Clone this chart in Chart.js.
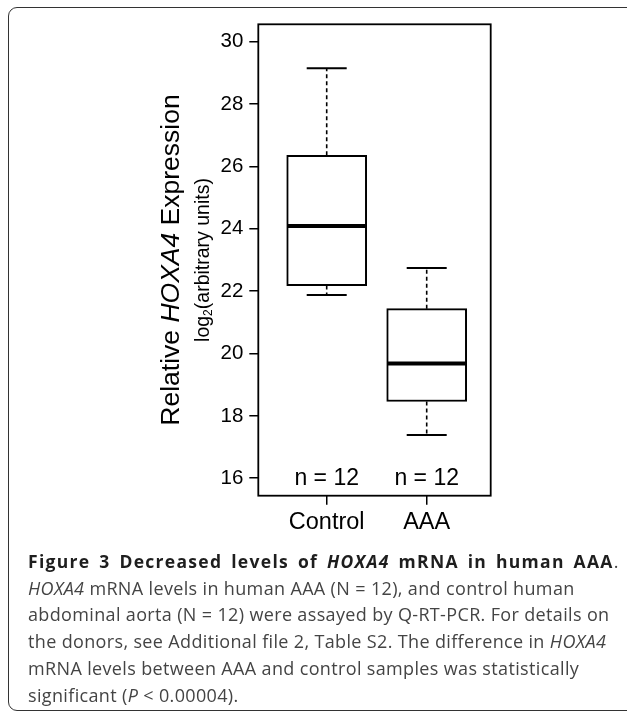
<!DOCTYPE html>
<html>
<head>
<meta charset="utf-8">
<script src="https://cdn.jsdelivr.net/npm/chart.js@4/dist/chart.umd.min.js"></script>
<style>
  html, body { margin: 0; padding: 0; background: #fff; width: 627px; height: 713px; overflow: hidden; }
  #card { position: absolute; left: 8px; top: 7px; width: 700px; height: 704px; border: 1.5px solid #333; border-radius: 9px; box-sizing: border-box; }
  #myChart { position: absolute; left: 0; top: 0; }
  .ytitle { position: absolute; top: 260px; white-space: nowrap; color: #000; font-family: "Liberation Sans", Arial, sans-serif; transform: translate(-50%, -50%) rotate(-90deg); line-height: 1; }
  #t1 { left: 170px; font-size: 26.5px; }
  #t2 { left: 203px; font-size: 19.5px; }
  #t2 sub { font-size: 12px; line-height: 0; vertical-align: -3px; }
  #caption { position: absolute; left: 28px; top: 548px; font-family: "Open Sans", sans-serif; font-size: 18px; letter-spacing: 0.35px; line-height: 26.7px; color: #444; white-space: nowrap; }
  #caption b { color: #1e1e1e; font-size: 17.5px; letter-spacing: 1.3px; word-spacing: 3px; }
</style>
</head>
<body>
<div id="card"></div>
<canvas id="myChart" width="627" height="560"></canvas>
<div class="ytitle" id="t1">Relative <i>HOXA4</i> Expression</div>
<div class="ytitle" id="t2">log<sub>2</sub>(arbitrary units)</div>
<div id="caption">
<b>Figure 3 Decreased levels of <i>HOXA4</i> mRNA in human AAA</b>.<br>
<i>HOXA4</i> mRNA levels in human AAA (N = 12), and control human<br>
abdominal aorta (N = 12) were assayed by Q-RT-PCR. For details on<br>
the donors, see Additional file 2, Table S2. The difference in <i>HOXA4</i><br>
mRNA levels between AAA and control samples was statistically<br>
significant (<i>P</i> &lt; 0.00004).
</div>
<script>
const categories = ['Control', 'AAA'];
const whiskerLow = [21.88, 17.39];
const lowerQuartile = [22.18, 18.46];
const medians = [24.09, 19.68];
const upperQuartile = [26.36, 21.44];
const whiskerHigh = [29.15, 22.74];
const sampleSizes = [12, 12];
const yTicks = [16, 18, 20, 22, 24, 26, 28, 30];

Chart.defaults.font.family = '"Liberation Sans", Arial, sans-serif';
Chart.defaults.color = '#000';

// whiskers, medians, n labels and the frame round the plot
const boxParts = {
    id: 'boxParts',
    afterDatasetsDraw(chart) {
        const ctx = chart.ctx;
        const x = chart.scales.x, y = chart.scales.y;
        const a = chart.chartArea;
        ctx.save();
        ctx.strokeStyle = '#000';
        for (let i = 0; i < categories.length; i++) {
            const c = i + 1;
            const cx = x.getPixelForValue(c);
            ctx.lineWidth = 1.6;
            ctx.setLineDash([4, 3]);
            ctx.beginPath();
            ctx.moveTo(cx, y.getPixelForValue(upperQuartile[i]));
            ctx.lineTo(cx, y.getPixelForValue(whiskerHigh[i]));
            ctx.moveTo(cx, y.getPixelForValue(lowerQuartile[i]));
            ctx.lineTo(cx, y.getPixelForValue(whiskerLow[i]));
            ctx.stroke();
            ctx.setLineDash([]);
            ctx.lineWidth = 2;
            ctx.beginPath();
            [whiskerHigh[i], whiskerLow[i]].forEach(v => {
                ctx.moveTo(x.getPixelForValue(c - 0.2), y.getPixelForValue(v));
                ctx.lineTo(x.getPixelForValue(c + 0.2), y.getPixelForValue(v));
            });
            ctx.stroke();
            ctx.lineWidth = 4;
            ctx.beginPath();
            ctx.moveTo(x.getPixelForValue(c - 0.39), y.getPixelForValue(medians[i]));
            ctx.lineTo(x.getPixelForValue(c + 0.39), y.getPixelForValue(medians[i]));
            ctx.stroke();
            ctx.fillStyle = '#000';
            ctx.font = '23px "Liberation Sans", Arial, sans-serif';
            ctx.textAlign = 'center';
            ctx.textBaseline = 'middle';
            ctx.fillText('n = ' + sampleSizes[i], cx, y.getPixelForValue(16));
        }
        ctx.lineWidth = 1.8;
        ctx.strokeRect(a.left, a.top, a.right - a.left, a.bottom - a.top);
        ctx.restore();
    }
};

const ch = new Chart(document.getElementById('myChart').getContext('2d'), {
    type: 'bar',
    data: {
        datasets: [{
            data: categories.map((c, i) => ({ x: i + 1, y: [lowerQuartile[i], upperQuartile[i]] })),
            backgroundColor: '#fff',
            borderColor: '#000',
            borderWidth: 2,
            borderSkipped: false,
            barThickness: 80
        }]
    },
    options: {
        responsive: false,
        animation: false,
        layout: { padding: { left: 188.3, top: 24.3, right: 136.3, bottom: 14.3 } },
        plugins: { legend: { display: false }, tooltip: { enabled: false } },
        scales: {
            x: {
                type: 'linear',
                offset: false,
                min: 0.316,
                max: 2.64,
                afterBuildTicks: s => { s.ticks = categories.map((c, i) => ({ value: i + 1 })); },
                afterFit: s => { s.height = 50; },
                ticks: { callback: v => categories[v - 1], font: { size: 23.5 }, padding: 4, maxRotation: 0 },
                grid: { offset: false, drawOnChartArea: false, drawTicks: true, tickLength: 9, color: '#000', lineWidth: 1.5 },
                border: { display: false }
            },
            y: {
                min: 15.44,
                max: 30.56,
                afterBuildTicks: s => { s.ticks = yTicks.map(v => ({ value: v })); },
                afterFit: s => { s.width = 70; },
                ticks: { font: { size: 20.5 }, padding: 6 },
                grid: { drawOnChartArea: false, drawTicks: true, tickLength: 9, color: '#000', lineWidth: 1.5 },
                border: { display: false }
            }
        }
    },
    plugins: [boxParts]
});
</script>
</body>
</html>
